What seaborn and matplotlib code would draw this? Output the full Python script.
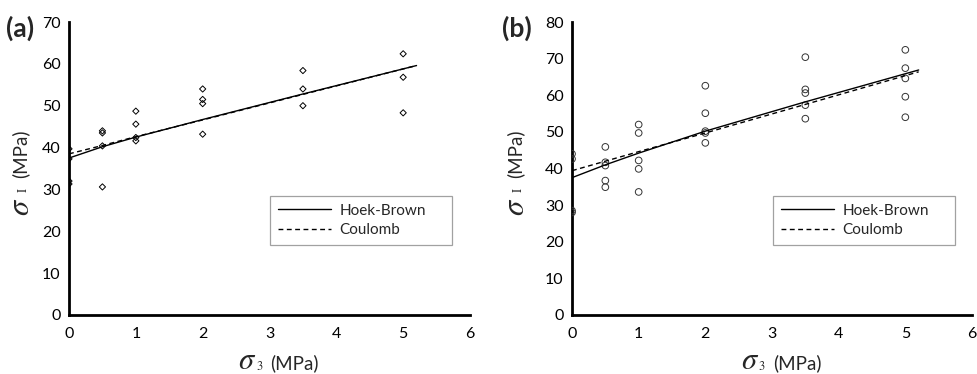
import numpy as np
import pandas as pd
import matplotlib
matplotlib.use("Agg")
import matplotlib.pyplot as plt
import seaborn as sns

# ---------------- data ----------------
# Panel (a) test points (diamonds)
a_s3 = [0, 0, 0, 0,
        0.5, 0.5, 0.5, 0.5,
        1, 1, 1, 1,
        2, 2, 2, 2,
        3.5, 3.5, 3.5,
        5, 5, 5]
a_s1 = [39.7, 37.3, 32.0, 31.3,
        44.0, 43.5, 40.4, 30.6,
        48.7, 45.6, 42.4, 41.6,
        54.0, 51.5, 50.5, 43.2,
        58.4, 54.0, 50.0,
        62.4, 56.8, 48.3]

# Panel (b) test points (circles)
b_s3 = [0, 0, 0, 0,
        0.5, 0.5, 0.5, 0.5, 0.5,
        1, 1, 1, 1, 1,
        2, 2, 2, 2, 2,
        3.5, 3.5, 3.5, 3.5, 3.5,
        5, 5, 5, 5, 5]
b_s1 = [44.0, 42.6, 28.5, 28.0,
        45.9, 41.7, 40.8, 36.7, 34.9,
        52.0, 49.7, 42.2, 39.9, 33.6,
        62.6, 55.1, 50.2, 49.7, 47.0,
        70.4, 61.6, 60.6, 57.3, 53.6,
        72.4, 67.4, 64.6, 59.6, 54.0]

# Fitted criteria
fit_s3 = [0, 0.5, 1, 2, 3.5, 5.2]
a_hb = [37.5, 40.2, 42.5, 46.7, 52.8, 59.6]
a_cb = [38.5, 40.5, 42.6, 46.6, 52.7, 59.6]
b_hb = [37.5, 41.0, 44.2, 50.2, 58.2, 66.9]
b_cb = [39.4, 42.0, 44.6, 49.7, 57.5, 66.4]

model_names = ["Hoek-Brown", "Coulomb"]
x_ticks = [0, 1, 2, 3, 4, 5, 6]
a_yticks = [0, 10, 20, 30, 40, 50, 60, 70]
b_yticks = [0, 10, 20, 30, 40, 50, 60, 70, 80]

# ---------------- style ----------------
sns.set_style("white")
plt.rcParams['font.family'] = ['Lato', 'DejaVu Sans']

W, H = 977, 374
fig = plt.figure(figsize=(W / 100, H / 100), dpi=100)


def px(x, y):
    return x / W, 1 - y / H


def draw(left, right, xs, ys, marker, msize, ecol, hb, cb, yticks, tag, tagx, ylab_x):
    top, bottom = 22, 315
    ax = fig.add_axes([left / W, (H - bottom) / H, (right - left) / W, (bottom - top) / H])
    pts = pd.DataFrame({"s3": xs, "s1": ys})
    sns.scatterplot(data=pts, x="s3", y="s1", ax=ax, marker=marker, s=msize,
                    facecolor="none", edgecolor=ecol, linewidth=0.7,
                    legend=False, zorder=3)
    lines = pd.DataFrame({
        "s3": fit_s3 * 2,
        "s1": hb + cb,
        "model": [model_names[0]] * len(fit_s3) + [model_names[1]] * len(fit_s3),
    })
    sns.lineplot(data=lines, x="s3", y="s1", hue="model", style="model",
                 palette={model_names[0]: "black", model_names[1]: "black"},
                 dashes={model_names[0]: "", model_names[1]: (3.5, 2.5)},
                 linewidth=1.0, ax=ax, zorder=4)
    ax.set_xlim(0, 6)
    ax.set_ylim(0, yticks[-1])
    ax.set_xticks(x_ticks)
    ax.set_yticks(yticks)
    ax.tick_params(axis='both', direction='in', length=4, width=1.0,
                   labelsize=11.5, colors='black')
    ax.tick_params(axis='x', pad=9)
    ax.tick_params(axis='y', pad=6)
    for s in ['top', 'right']:
        ax.spines[s].set_visible(False)
    for s in ['left', 'bottom']:
        ax.spines[s].set_linewidth(2.0)
        ax.spines[s].set_color('black')
    ax.set_xlabel("")
    ax.set_ylabel("")

    # legend
    lx0 = 201 / (right - left)
    lw_ = 182 / (right - left)
    ly1 = (bottom - 196) / (bottom - top)
    leg = ax.legend(loc='upper left', bbox_to_anchor=(lx0, ly1 - 0.2, lw_, 0.2),
                    mode='expand', frameon=True, fancybox=False, fontsize=11,
                    handlelength=3.5, handletextpad=0.55, borderpad=0.5,
                    labelspacing=0.35, borderaxespad=0.0, title=None)
    leg.get_frame().set_edgecolor('#8a8a8a')
    leg.get_frame().set_linewidth(0.9)

    sig = dict(family='STIXGeneral', style='italic', fontsize=22)
    sub = dict(family='STIXGeneral', fontsize=9)

    # x label: sigma_3 (MPa)
    cx = (left + right) / 2
    fig.text(*px(cx - 31, 361), 'σ', ha='left', va='center', **sig)
    fig.text(*px(cx - 13.5, 367), '3', ha='left', va='center', **sub)
    fig.text(*px(cx + 1, 363), '(MPa)', fontsize=13.5, ha='left', va='center')

    # y label: sigma_I (MPa)
    fig.text(*px(ylab_x, 154), '(MPa)', fontsize=13.5, ha='center', va='center',
             rotation=90)
    fig.text(*px(ylab_x, 207), 'σ', ha='center', va='center', rotation=90, **sig)
    fig.text(*px(ylab_x + 4, 189.5), 'I', ha='center', va='center',
             rotation=90, **sub)

    # panel tag
    fig.text(*px(tagx, 28), tag, fontsize=19, fontweight='bold',
             ha='left', va='center')
    return ax


draw(69, 470, a_s3, a_s1, 'D', 10, 'black', a_hb, a_cb, a_yticks, '(a)', 6, 20)
draw(572, 972, b_s3, b_s1, 'o', 23, '#333333', b_hb, b_cb, b_yticks, '(b)', 502, 515)

fig.savefig("out.png", dpi=100)
